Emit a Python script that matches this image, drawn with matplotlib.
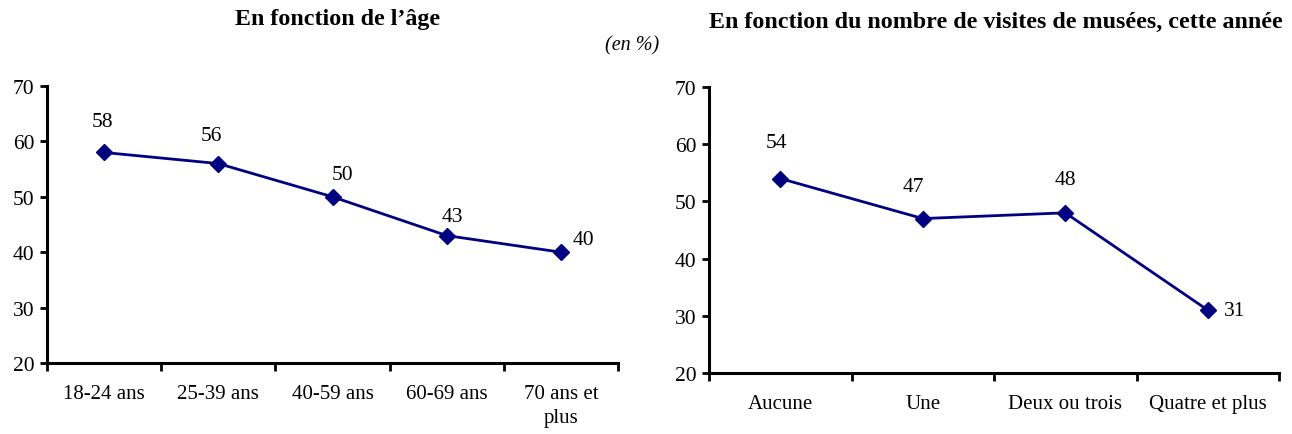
import numpy as np
import matplotlib.pyplot as plt

plt.rcParams["font.family"] = ["Liberation Serif", "DejaVu Serif"]

age_labels = ["18-24 ans", "25-39 ans", "40-59 ans", "60-69 ans", "70 ans et\nplus"]
age_values = [58, 56, 50, 43, 40]

visit_labels = ["Aucune", "Une", "Deux ou trois", "Quatre et plus"]
visit_values = [54, 47, 48, 31]

# label offsets in points (dx, dy)
age_offsets = [(-1, 22), (-5, 20), (7, 16), (4, 14), (16, 9)]
visit_offsets = [(-2.5, 26), (-7, 23), (0, 24), (19, 0)]

navy = "#000080"

fig = plt.figure(figsize=(12.92, 4.35), dpi=100)
# left axes: x 47-618 px, y 87-364 px ; right axes: x 709-1279 px, y 88-374 px
ax1 = fig.add_axes([47 / 1292, 1 - 364 / 435, 571 / 1292, 277 / 435])
ax2 = fig.add_axes([709 / 1292, 1 - 374 / 435, 570 / 1292, 286 / 435])


def draw(ax, labels, values, offsets):
    x = np.arange(len(values))
    ax.plot(x, values, color=navy, lw=2, marker="D", markersize=8.5, clip_on=False)
    for xi, v, (dx, dy) in zip(x, values, offsets):
        ax.annotate(str(v), (xi, v), xytext=(dx, dy), textcoords="offset points",
                    ha="center", va="center", fontsize=15.5)
    ax.set_xlim(-0.5, len(values) - 0.5)
    ax.set_ylim(20, 70)
    ax.set_yticks([20, 30, 40, 50, 60, 70])
    ax.set_xticks(x)
    ax.set_xticklabels(labels, fontsize=15, linespacing=1.35)
    ax.set_xticks(np.arange(len(values) + 1) - 0.5, minor=True)
    ax.tick_params(axis="x", which="major", length=0, pad=15)
    ax.tick_params(axis="x", which="minor", length=6, width=2, direction="out")
    ax.tick_params(axis="y", length=5, width=2, labelsize=15.5, pad=4)
    for s in ["top", "right"]:
        ax.spines[s].set_visible(False)
    for s in ["left", "bottom"]:
        ax.spines[s].set_linewidth(2.2)


draw(ax1, age_labels, age_values, age_offsets)
draw(ax2, visit_labels, visit_values, visit_offsets)

fig.text(338 / 1292, 1 - 19 / 435, "En fonction de l\u2019âge", ha="center", va="center",
         fontsize=17.3, fontweight="bold")
fig.text(996 / 1292, 1 - 22 / 435, "En fonction du nombre de visites de musées, cette année",
         ha="center", va="center", fontsize=17.3, fontweight="bold")
fig.text(632 / 1292, 1 - 46 / 435, "(en %)", ha="center", va="center",
         fontsize=14.5, style="italic")

fig.savefig("out.png", dpi=100)
